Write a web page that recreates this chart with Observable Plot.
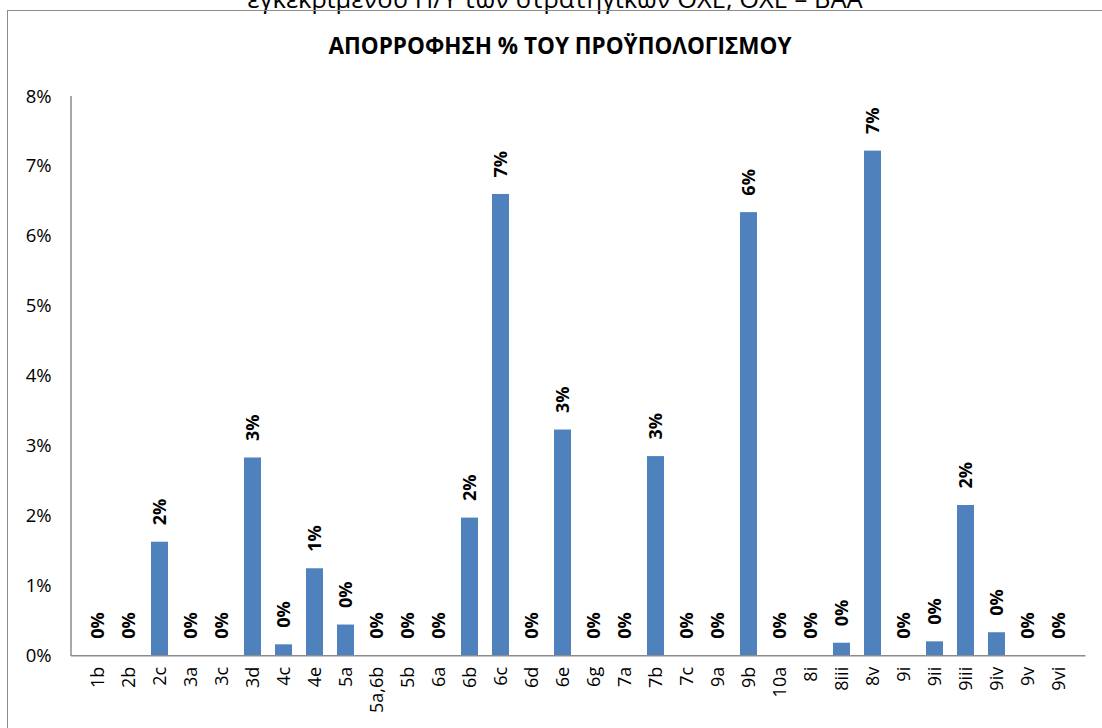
<!DOCTYPE html>
<html>
<head>
<meta charset="utf-8">
<script src="https://cdn.jsdelivr.net/npm/d3@7"></script>
<script src="https://cdn.jsdelivr.net/npm/@observablehq/plot@0.6"></script>
<style>
  html, body { margin: 0; padding: 0; background: #fff; }
  body { width: 1102px; height: 728px; overflow: hidden; position: relative; font-family: "Open Sans", sans-serif; }
  #pre { position: absolute; left: 0; width: 1110px; top: -14px; text-align: center; font-size: 25.5px; line-height: 25.5px; color: #000; white-space: nowrap; }
  #box { position: absolute; left: 7px; top: 10px; width: 1120px; height: 760px; border: 1.5px solid #8c8c8c; box-sizing: border-box; }
  #title { position: absolute; left: 0; width: 1120px; top: 35px; text-align: center; font-size: 22.5px; line-height: 22.5px; font-weight: bold; color: #000; white-space: nowrap; }
  #chart { position: absolute; left: 0; top: 74px; }
  #chart svg { overflow: visible; }
</style>
</head>
<body>
<div id="pre">εγκεκριμένου Π/Υ των στρατηγικών ΟΧΕ, ΟΧΕ – ΒΑΑ</div>
<div id="box"></div>
<div id="title">ΑΠΟΡΡΟΦΗΣΗ % ΤΟΥ ΠΡΟΫΠΟΛΟΓΙΣΜΟΥ</div>
<div id="chart"></div>
<script>
const categories = ["1b","2b","2c","3a","3c","3d","4c","4e","5a","5a,6b","5b","6a","6b","6c","6d","6e","6g","7a","7b","7c","9a","9b","10a","8i","8iii","8v","9i","9ii","9iii","9iv","9v","9vi"];
const absorption = [0,0,0.01625,0,0,0.0283,0.00157,0.01245,0.0044,0,0,0,0.0197,0.066,0,0.0323,0,0,0.0285,0,0,0.0634,0,0,0.0018,0.0722,0,0.002,0.0215,0.0033,0,0];
const yTicks = [0,0.01,0.02,0.03,0.04,0.05,0.06,0.07,0.08];

const data = categories.map((c, i) => ({cat: c, value: absorption[i]}));
const pct = d3.format(".0%");

const chart = Plot.plot({
  width: 1102,
  height: 652,
  marginLeft: 71,
  marginRight: 16.5,
  marginTop: 22.1,
  marginBottom: 70.7,
  style: {fontFamily: "'Open Sans', sans-serif", fontSize: "18px", color: "#000", background: "transparent"},
  x: {domain: categories, paddingInner: 0.44, paddingOuter: 0.22, label: null},
  y: {domain: [0, 0.08], label: null},
  marks: [
    Plot.barY(data, {x: "cat", y: "value", fill: "#4f81bd"}),
    Plot.ruleY([0], {stroke: "#8c8c8c", strokeWidth: 1.5}),
    Plot.text(data, {x: "cat", y: "value", text: d => pct(d.value), rotate: -90, textAnchor: "start", dy: -17, fontWeight: "bold", fontSize: 18, fill: "#000"}),
    Plot.axisY({ticks: yTicks, tickFormat: pct, tickSize: 0, tickPadding: 20, fontSize: 18.5, label: null}),
    Plot.axisX({tickRotate: -90, tickSize: 0, tickPadding: 11, fontSize: 18, label: null})
  ]
});

// vertical axis line using the plot's own y scale
const ys = chart.scale("y");
d3.select(chart).append("line")
  .attr("x1", 71).attr("x2", 71)
  .attr("y1", ys.apply(0.08)).attr("y2", ys.apply(0) + 0.75)
  .attr("stroke", "#8c8c8c").attr("stroke-width", 1.5);

document.getElementById("chart").appendChild(chart);
</script>
</body>
</html>
